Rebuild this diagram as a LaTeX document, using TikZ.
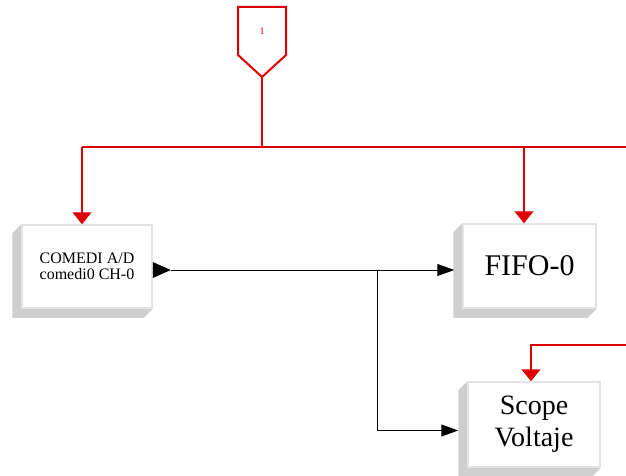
\documentclass[tikz,border=0pt]{standalone}
\usepackage{fontspec}
\setmainfont{Liberation Serif}
\usetikzlibrary{
  arrows.meta,
  calc,
  backgrounds
}
\definecolor{sigred}{HTML}{DD0000}
\definecolor{shadegray}{HTML}{CFCFCF}
\definecolor{rimgray}{HTML}{E4E4E4}

% gray bevel shadow behind a block
\newcommand{\blockshadow}[1]{%
  \fill[shadegray] (#1.north west) -- ++(-9,9) -- ($(#1.south west)+(-9,9)$)
    -- ($(#1.south east)+(-9,9)$) -- (#1.south east) -- cycle;}

\begin{document}
\begin{tikzpicture}[
      x=1pt, y=-1pt,
      block/.style={
        rectangle, draw=rimgray, line width=1.5pt, fill=white,
        inner sep=0pt, align=center
      },
      redwire/.style={sigred, line width=1.4pt},
      redarrow/.style={redwire, -{Triangle[length=12pt, width=19pt]}},
      sigarrow/.style={black, line width=1pt, -{Triangle[length=17pt, width=12pt]}},
      sigline/.style={black, line width=1pt}
    ]
      \useasboundingbox (0,0) rectangle (626,476);

      % Blocks
      \node[block, minimum width=130pt, minimum height=83pt,
        font=\fontsize{16}{16.5}\selectfont] (comedi) at (87,266.5)
        {COMEDI A/D\\comedi0 CH-0};
      \node[block, minimum width=133pt, minimum height=84pt,
        font=\fontsize{30}{32}\selectfont] (fifo) at (529.5,266) {FIFO-0};
      \node[block, minimum width=132pt, minimum height=85pt,
        font=\fontsize{28}{32}\selectfont] (scope) at (534,424.5) {Scope\\Voltaje};

      % Shadows
      \begin{scope}[on background layer]
        \blockshadow{comedi}
        \blockshadow{fifo}
        \blockshadow{scope}
      \end{scope}

      % Input port
      \node[text=sigred, font=\fontsize{10}{10}\selectfont] (port) at (262,31) {1};
      \draw[sigred, line width=2pt, line join=miter]
        (238,7) -- (286,7) -- (286,55) -- (262,77) -- (238,55) -- cycle;
      \coordinate (porttip) at (262,78);
      \coordinate (bus) at (262,147);
      \coordinate (busleft) at (82,147);
      \coordinate (busright) at (626,147);
      \coordinate (busfifo) at (524,147);
      \coordinate (scopefeed) at (626,345);

      % Red wires
      \draw[redwire] (porttip) -- (bus);
      \draw[redwire] (busleft) -- (busright);
      \draw[redarrow] (busleft) -- (busleft |- comedi.north);
      \draw[redarrow] (busfifo) -- (busfifo |- fifo.north);
      \draw[redarrow] (scopefeed) -| ($(scope.north)+(-3,0)$);

      % Output port and signal wires
      \coordinate (split) at (377,270);
      \coordinate (outport) at (comedi.east |- split);
      \fill (outport) -- ++(0,-8) -- ++(18,8) -- ++(-18,8) -- cycle;
      \coordinate (out) at ($(outport)+(18,0)$);
      \coordinate (scopein) at ($(scope.west)+(-9,6)$);
      \draw[sigline] (out) -- (split);
      \draw[sigarrow, shorten >=8pt] (split) -- (split -| fifo.west);
      \draw[sigarrow] (split) |- (scopein);
    \end{tikzpicture}
\end{document}
